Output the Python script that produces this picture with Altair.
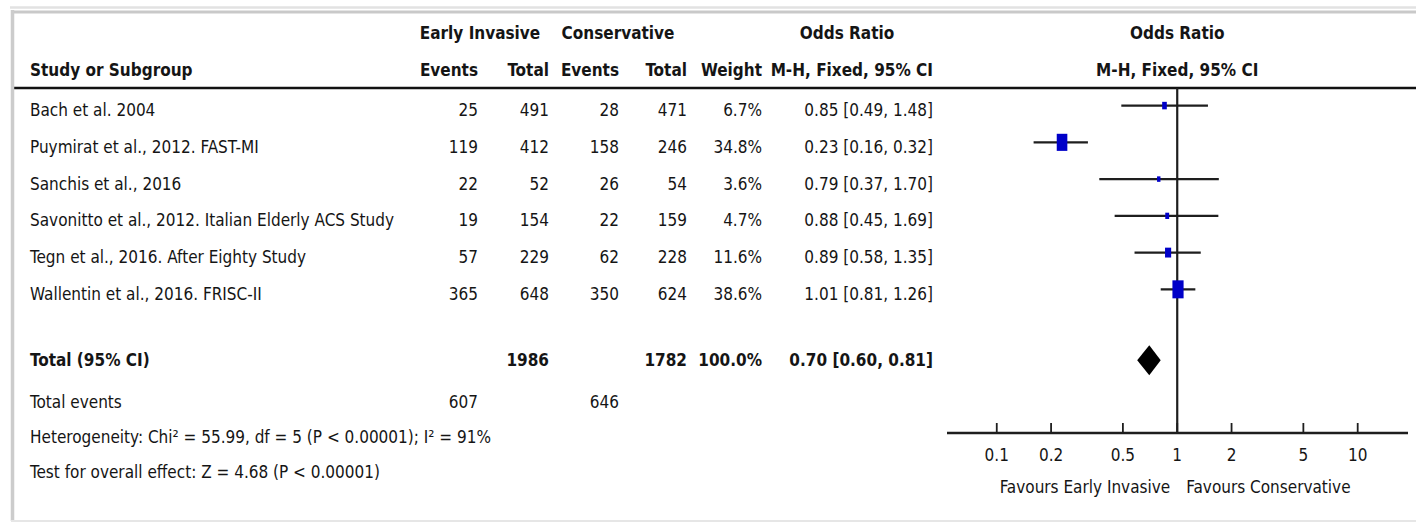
import altair as alt
import pandas as pd

# ---- study data -------------------------------------------------------
studies = [
    "Bach et al. 2004",
    "Puymirat et al., 2012. FAST-MI",
    "Sanchis et al., 2016",
    "Savonitto et al., 2012. Italian Elderly ACS Study",
    "Tegn et al., 2016. After Eighty Study",
    "Wallentin et al., 2016. FRISC-II",
]
ei_events = [25, 119, 22, 19, 57, 365]
ei_total = [491, 412, 52, 154, 229, 648]
con_events = [28, 158, 26, 22, 62, 350]
con_total = [471, 246, 54, 159, 228, 624]
weights = [6.7, 34.8, 3.6, 4.7, 11.6, 38.6]
odds = [0.85, 0.23, 0.79, 0.88, 0.89, 1.01]
ci_low = [0.49, 0.16, 0.37, 0.45, 0.58, 0.81]
ci_high = [1.48, 0.32, 1.70, 1.69, 1.35, 1.26]

# pooled result
total_ei = [1986]
total_con = [1782]
total_weight = [100.0]
pooled_or = [0.70]
pooled_low = [0.60]
pooled_high = [0.81]
events_ei = [607]
events_con = [646]

heterogeneity = "Heterogeneity: Chi² = 55.99, df = 5 (P < 0.00001); I² = 91%"
overall = "Test for overall effect: Z = 4.68 (P < 0.00001)"

axis_ticks = [0.1, 0.2, 0.5, 1, 2, 5, 10]
axis_labels = ["0.1", "0.2", "0.5", "1", "2", "5", "10"]
axis_extent = [0.053, 19]

# ---- layout -----------------------------------------------------------
FONT = "DejaVu Sans Condensed, DejaVu Sans, sans-serif"
FS = 17
INK = "#151515"
LINE = "#1e1e1e"
BLUE = "#0000c8"

ROW = {
    "head1": -1.095,
    "head2": -0.088,
    "rule": 0.401,
    "total": 7.81,
    "events": 8.946,
    "het": 9.898,
    "test": 10.85,
    "axis": 9.789,
    "tick_top": 9.517,
    "tick_lab": 10.39,
    "favours": 11.26,
}
FOREST_SHIFT = -0.12
DIAMOND_HALF = 0.41

COL = {
    "name": 30,
    "ei_e": 478,
    "ei_t": 549,
    "c_e": 619,
    "c_t": 687,
    "w": 762,
    "ci": 933,
}

y_scale = alt.Scale(domain=[1, 11], range=[110, 477.5], zero=False, nice=False)
x_scale = alt.Scale(type="log", domain=axis_extent, range=[947, 1408], nice=False)
Y = lambda f="row": alt.Y(f"{f}:Q", scale=y_scale, axis=None)
X = lambda f: alt.X(f"{f}:Q", scale=x_scale, axis=None)


def txt(**kw):
    base = dict(font=FONT, fontSize=FS, color=INK, baseline="middle", dy=1)
    base.update(kw)
    return base


df = pd.DataFrame({
    "name": studies,
    "ei_e": ei_events,
    "ei_t": ei_total,
    "c_e": con_events,
    "c_t": con_total,
    "w": weights,
    "or": odds,
    "lo": ci_low,
    "hi": ci_high,
})
df["row"] = range(1, len(df) + 1)
df["frow"] = df["row"] + FOREST_SHIFT
df["w_txt"] = df["w"].map(lambda v: f"{v:.1f}%")
df["ci_txt"] = [f"{o:.2f} [{l:.2f}, {h:.2f}]" for o, l, h in zip(odds, ci_low, ci_high)]

layers = []

# table body
for field, align in [("name", "left"), ("ei_e", "right"), ("ei_t", "right"),
                     ("c_e", "right"), ("c_t", "right"), ("w_txt", "right"),
                     ("ci_txt", "right")]:
    key = "w" if field == "w_txt" else ("ci" if field == "ci_txt" else field)
    layers.append(
        alt.Chart(df).mark_text(**txt(align=align)).encode(
            x=alt.value(COL[key]), y=Y(), text=alt.Text(f"{field}:N")
        )
    )


def label(text, x, row, align="left", bold=False):
    d = pd.DataFrame({"row": [row], "t": [text]})
    return alt.Chart(d).mark_text(
        **txt(align=align, fontWeight="bold" if bold else "normal")
    ).encode(x=alt.value(x), y=Y(), text="t:N")


# column headers
layers += [
    label("Early Invasive", 480, ROW["head1"], "center", True),
    label("Conservative", 618, ROW["head1"], "center", True),
    label("Odds Ratio", 847, ROW["head1"], "center", True),
    label("Study or Subgroup", COL["name"], ROW["head2"], "left", True),
    label("Events", COL["ei_e"], ROW["head2"], "right", True),
    label("Total", COL["ei_t"], ROW["head2"], "right", True),
    label("Events", COL["c_e"], ROW["head2"], "right", True),
    label("Total", COL["c_t"], ROW["head2"], "right", True),
    label("Weight", COL["w"], ROW["head2"], "right", True),
    label("M-H, Fixed, 95% CI", COL["ci"], ROW["head2"], "right", True),
]

# pooled rows
layers += [
    label("Total (95% CI)", COL["name"], ROW["total"], "left", True),
    label(str(total_ei[0]), COL["ei_t"], ROW["total"], "right", True),
    label(str(total_con[0]), COL["c_t"], ROW["total"], "right", True),
    label(f"{total_weight[0]:.1f}%", COL["w"], ROW["total"], "right", True),
    label(f"{pooled_or[0]:.2f} [{pooled_low[0]:.2f}, {pooled_high[0]:.2f}]",
          COL["ci"], ROW["total"], "right", True),
    label("Total events", COL["name"], ROW["events"]),
    label(str(events_ei[0]), COL["ei_e"], ROW["events"], "right"),
    label(str(events_con[0]), COL["c_e"], ROW["events"], "right"),
    label(heterogeneity, COL["name"], ROW["het"]),
    label(overall, COL["name"], ROW["test"]),
]

# header rule and frame
layers.append(
    alt.Chart(pd.DataFrame({"row": [ROW["rule"]]})).mark_rule(
        color="#111111", strokeWidth=2.5
    ).encode(x=alt.value(13), x2=alt.value(1416), y=Y())
)
frame = pd.DataFrame({"k": [0]})
layers += [
    alt.Chart(frame).mark_rule(color="#e2e2e2", strokeWidth=2.5).encode(
        x=alt.value(10), x2=alt.value(1416), y=alt.value(7.5)),
    alt.Chart(frame).mark_rule(color="#c9c9c9", strokeWidth=3).encode(
        x=alt.value(11), x2=alt.value(1416), y=alt.value(12)),
    alt.Chart(frame).mark_rule(color="#cccccc", strokeWidth=3.5).encode(
        x=alt.value(12.5), y=alt.value(10), y2=alt.value(521)),
    alt.Chart(frame).mark_rule(color="#e6e6e6", strokeWidth=2).encode(
        x=alt.value(11), x2=alt.value(1416), y=alt.value(521)),
]

# forest plot: forest headers centred on the line of no effect
one = pd.DataFrame({"v": [1], "row": [ROW["head1"]]})
layers += [
    alt.Chart(one).mark_text(**txt(align="center", fontWeight="bold")).encode(
        x=X("v"), y=Y(), text=alt.value("Odds Ratio")),
    alt.Chart(one.assign(row=ROW["head2"])).mark_text(
        **txt(align="center", fontWeight="bold")).encode(
        x=X("v"), y=Y(), text=alt.value("M-H, Fixed, 95% CI")),
]

# line of no effect
layers.append(
    alt.Chart(pd.DataFrame({"v": [1], "row": [ROW["rule"]], "row2": [ROW["axis"]]}))
    .mark_rule(color=LINE, strokeWidth=2.2)
    .encode(x=X("v"), y=Y(), y2="row2:Q")
)

# confidence intervals and weighted boxes
layers.append(
    alt.Chart(df).mark_rule(color=LINE, strokeWidth=2.4).encode(
        x=X("lo"), x2="hi:Q", y=Y("frow"))
)
layers.append(
    alt.Chart(df).mark_point(
        shape="M-0.62,-1L0.62,-1L0.62,1L-0.62,1Z", filled=True,
        color=BLUE, opacity=1, strokeWidth=0,
    ).encode(
        x=X("or"), y=Y("frow"),
        size=alt.Size("w:Q", scale=alt.Scale(domain=[0, 100], range=[0, 840]), legend=None),
    )
)

# pooled diamond
diamond = pd.DataFrame({
    "x": [pooled_low[0], pooled_or[0], pooled_high[0]],
    "top": [ROW["total"], ROW["total"] - DIAMOND_HALF, ROW["total"]],
    "bot": [ROW["total"], ROW["total"] + DIAMOND_HALF, ROW["total"]],
})
layers.append(
    alt.Chart(diamond).mark_area(color="#000000", opacity=1, interpolate="linear").encode(
        x=X("x"), y=Y("top"), y2="bot:Q")
)

# axis
ax = pd.DataFrame({"a": [axis_extent[0]], "b": [axis_extent[1]], "row": [ROW["axis"]]})
layers.append(
    alt.Chart(ax).mark_rule(color=LINE, strokeWidth=2.4).encode(x=X("a"), x2="b:Q", y=Y())
)
ticks = pd.DataFrame({"v": axis_ticks, "lab": axis_labels,
                      "row": ROW["tick_top"], "row2": ROW["axis"],
                      "lrow": ROW["tick_lab"]})
layers.append(
    alt.Chart(ticks).mark_rule(color=LINE, strokeWidth=1.8).encode(
        x=X("v"), y=Y(), y2="row2:Q")
)
layers.append(
    alt.Chart(ticks).mark_text(**txt(align="center")).encode(
        x=X("v"), y=Y("lrow"), text="lab:N")
)
fav = pd.DataFrame({"v": [1], "row": [ROW["favours"]]})
layers += [
    alt.Chart(fav).mark_text(**txt(align="right", dx=-7)).encode(
        x=X("v"), y=Y(), text=alt.value("Favours Early Invasive")),
    alt.Chart(fav).mark_text(**txt(align="left", dx=9)).encode(
        x=X("v"), y=Y(), text=alt.value("Favours Conservative")),
]

chart = (
    alt.layer(*layers)
    .properties(width=1416, height=523, padding=0,
                autosize=alt.AutoSizeParams(type="none"), background="white")
    .configure_view(stroke=None)
)

chart.save("out.html", embed_options={"renderer": "svg", "actions": False})
